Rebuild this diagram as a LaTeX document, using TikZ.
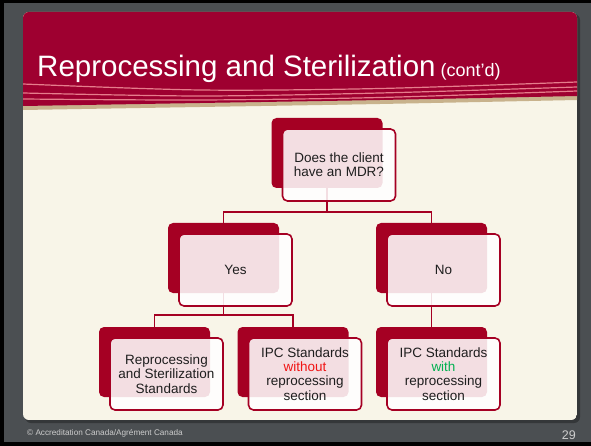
\documentclass[tikz,border=0pt]{standalone}
\usepackage{fontspec}
\setmainfont{Liberation Sans}
\definecolor{framegray}{RGB}{75,79,82}
\definecolor{bannerred}{RGB}{158,0,48}
\definecolor{boxred}{RGB}{165,0,35}
\definecolor{cream}{RGB}{248,245,232}
\definecolor{tanband}{RGB}{200,178,140}
\definecolor{pinkline}{RGB}{230,125,140}
\definecolor{textdark}{RGB}{30,30,30}
\definecolor{withoutred}{RGB}{240,20,20}
\definecolor{withgreen}{RGB}{0,176,80}
\definecolor{footgray}{RGB}{205,205,205}
\newcommand\boxfont{\fontsize{13.5}{14.3}\selectfont}
\pgfdeclarelayer{backlayer}
\pgfdeclarelayer{connlayer}
\pgfsetlayers{backlayer,connlayer,main}
\newcommand\twobox[4]{%
  \node[backbox] (#1-b) at (#2,#3) {};
  \node[frontbox] (#1) at ([shift={(12,12)}]#1-b.center) {#4};}
\begin{document}
\begin{tikzpicture}[x=1pt,y=-1pt,
  backbox/.style={fill=boxred, draw=none, rounded corners=5pt, minimum width=111pt, minimum height=70pt, inner sep=0pt},
  frontbox/.style={fill=white, fill opacity=0.87, text opacity=1, draw=boxred, draw opacity=1, line width=1.6pt, rounded corners=5pt, minimum width=113pt, minimum height=72pt, inner sep=0pt, align=center, font=\boxfont, text=textdark},
  conn/.style={draw=boxred, line width=1.6pt},
  wave/.style={draw=pinkline, line width=1.2pt}]
\useasboundingbox (0,0) rectangle (591,446);
\begin{pgfonlayer}{backlayer}
  \fill[framegray] (0,0) rectangle (591,446);
  \fill[black] (0,0) rectangle (591,3);
  \fill[black] (0,0) rectangle (4,446);
  \fill[black] (0,442) rectangle (591,446);
  \fill[black, opacity=0.3, rounded corners=6pt] (25,14) rectangle (580,423);
  \begin{scope}
    \clip[rounded corners=6pt] (23,12) rectangle (577,420);
    \fill[cream] (23,12) rectangle (577,420);
    \fill[tanband] (23,12) -- plot[smooth] coordinates {(23,110) (200,107) (380,104) (577,100)} -- (577,12) -- cycle;
    \fill[bannerred] (23,12) -- plot[smooth] coordinates {(23,106) (200,103) (380,100) (577,96)} -- (577,12) -- cycle;
    \draw[wave] plot[smooth] coordinates {(23,84) (200,90) (380,88.5) (577,82)};
    \draw[wave] plot[smooth] coordinates {(23,93) (200,96) (380,93) (577,87)};
    \draw[wave] plot[smooth] coordinates {(23,99) (200,100) (380,97.5) (577,91)};
  \end{scope}
  \node[anchor=base west, text=white, inner sep=0pt] (title) at (37,77)
    {{\fontsize{29.5}{32}\selectfont Reprocessing and Sterilization}{\fontsize{18}{20}\selectfont\ (cont’d)}};
  \node[anchor=base west, text=footgray, inner sep=0pt, font=\fontsize{8.2}{10}\selectfont] (foot) at (27,435) {© Accreditation Canada/Agrément Canada};
  \node[anchor=base east, text=footgray, inner sep=0pt, font=\fontsize{12.5}{14}\selectfont] (page) at (576,439.5) {29};
\end{pgfonlayer}
\twobox{q}{327}{153}{Does the client\\have an MDR?}
\twobox{yes}{223.5}{258}{Yes}
\twobox{no}{431.5}{258}{No}
\twobox{r1}{154.5}{362}{Reprocessing\\and Sterilization\\Standards}
\twobox{r2}{293}{362}{IPC Standards\\\textcolor{withoutred}{without}\\reprocessing\\section}
\twobox{r3}{431.5}{362}{IPC Standards\\\textcolor{withgreen}{with}\\reprocessing\\section}
\begin{pgfonlayer}{connlayer}
  \coordinate (j1) at (327,212);
  \draw[conn] (q-b.center) -- (j1);
  \draw[conn] (yes-b.north) |- (j1) -| (no-b.north);
  \coordinate (j2) at (223.5,315);
  \draw[conn] (yes-b.center) -- (j2);
  \draw[conn] (r1-b.north) |- (j2) -| (r2-b.north);
  \draw[conn] (no-b.center) -- (r3-b.north);
\end{pgfonlayer}
\end{tikzpicture}
\end{document}
